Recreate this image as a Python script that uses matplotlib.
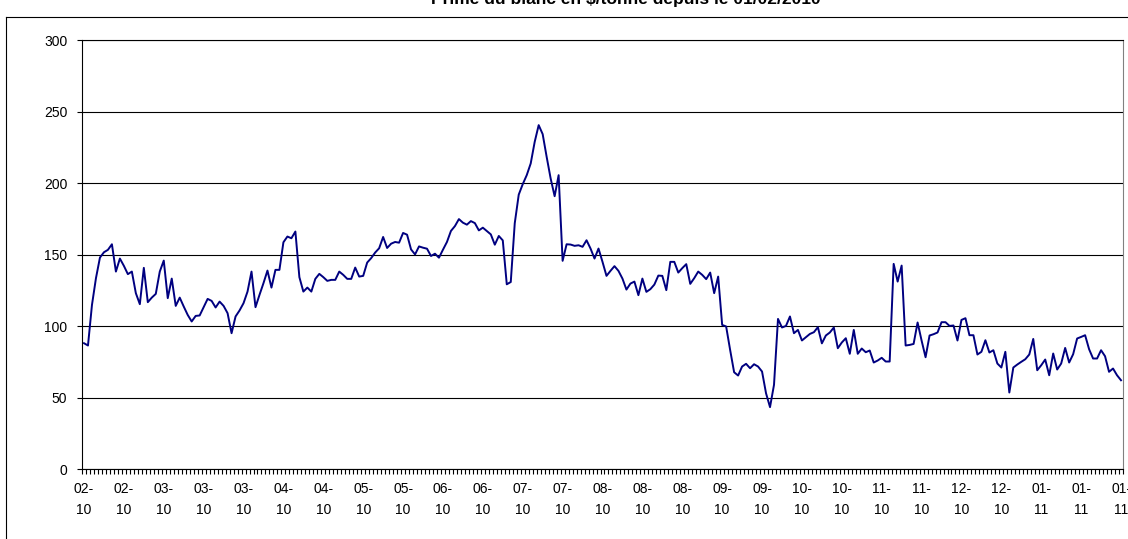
import numpy as np
import matplotlib
matplotlib.use("Agg")
import matplotlib.pyplot as plt
from matplotlib.lines import Line2D

plt.rcParams['font.family'] = ['Liberation Sans', 'DejaVu Sans']
plt.rcParams['font.size'] = 10

# 1) Prime du blanc ($/t), one value per business day from 01/02/2010
prime = [
    88.1, 86.5, 114.9, 133.6, 148.0, 151.7, 153.4, 157.3, 138.2, 147.3,
    142.2, 136.4, 138.2, 123.1, 115.4, 140.8, 116.8, 120.0, 122.6, 138.2,
    145.9, 119.6, 133.3, 114.2, 120.0, 113.8, 107.9, 103.3, 107.2, 107.5,
    113.3, 119.1, 117.7, 113.1, 117.2, 114.2, 109.1, 95.1, 106.8, 111.0,
    116.1, 124.2, 138.2, 113.3, 121.9, 130.1, 138.9, 127.0, 139.4, 139.4,
    158.7, 162.7, 161.5, 166.2, 134.3, 124.2, 127.0, 124.2, 133.1, 136.6,
    134.3, 131.7, 132.4, 132.4, 138.2, 135.9, 133.1, 133.1, 141.0, 134.7,
    135.2, 144.5, 147.6, 151.5, 154.5, 162.4, 154.7, 157.7, 158.9, 158.4,
    165.2, 164.0, 153.7, 150.2, 155.8, 154.9, 154.2, 149.1, 150.7, 147.9,
    153.5, 158.9, 166.6, 170.0, 174.9, 172.4, 171.0, 173.5, 172.1, 167.0,
    168.9, 166.6, 164.2, 157.0, 163.1, 160.0, 129.3, 130.9, 172.0, 192.0,
    199.3, 205.6, 213.8, 228.9, 240.6, 234.3, 218.4, 203.3, 190.9, 205.6,
    145.7, 157.3, 157.1, 156.2, 156.6, 155.5, 160.1, 154.3, 147.3, 154.3,
    145.0, 135.2, 138.7, 142.0, 138.7, 133.3, 125.6, 129.8, 131.2, 121.7,
    133.3, 124.0, 125.9, 129.1, 135.4, 135.2, 125.2, 145.0, 145.0, 137.5,
    140.6, 143.4, 129.6, 133.6, 138.2, 135.9, 132.9, 137.5, 123.1, 134.7,
    100.9, 99.8, 83.4, 67.8, 65.5, 71.8, 73.7, 70.6, 73.4, 71.8,
    68.3, 53.1, 43.4, 59.0, 105.1, 99.1, 100.2, 106.8, 95.1, 97.4,
    90.0, 92.3, 94.6, 95.8, 99.3, 88.0, 93.5, 95.6, 99.1, 84.6,
    88.6, 91.6, 80.7, 97.4, 80.7, 84.4, 81.8, 83.0, 74.6, 76.0,
    77.9, 75.3, 75.3, 143.6, 131.2, 142.4, 86.5, 86.9, 87.6, 102.6,
    90.0, 78.3, 93.5, 94.4, 95.6, 102.8, 102.8, 100.2, 100.5, 90.0,
    104.4, 105.6, 93.7, 93.7, 80.2, 82.1, 90.2, 81.6, 83.2, 73.9,
    71.1, 82.1, 53.6, 71.1, 73.2, 75.1, 76.9, 80.2, 91.1, 69.2,
    72.7, 76.7, 65.7, 80.9, 69.7, 73.9, 84.8, 74.6, 80.4, 91.4,
    92.5, 93.7, 83.9, 77.4, 77.4, 83.2, 79.0, 68.1, 70.4, 65.7,
    62.2,
]

# 2) Category labels, one every 10 business days (mm-yy)
tick_labels = [
    "02-10", "02-10", "03-10", "03-10", "03-10", "04-10", "04-10",
    "05-10", "05-10", "06-10", "06-10", "07-10", "07-10", "08-10",
    "08-10", "08-10", "09-10", "09-10", "10-10", "10-10", "11-10",
    "11-10", "12-10", "12-10", "01-11", "01-11", "01-11",
]
label_step = 10

title = "Prime du blanc en $/tonne depuis le 01/02/2010"

n = len(prime)
x = np.arange(n) + 0.5

fig = plt.figure(figsize=(11.28, 5.39), dpi=100)
W, H = 1128, 539
ax = fig.add_axes([82 / W, 1 - 469.2 / H, 1041 / W, 429 / H])

ax.plot(x, prime, color='#000080', lw=1.4)

ax.set_xlim(0, n)
ax.set_ylim(0, 300)
ax.set_yticks(range(0, 301, 50))
ax.yaxis.grid(True, color='black', lw=0.8)
ax.set_axisbelow(True)

for s in ['left', 'bottom', 'top']:
    ax.spines[s].set_color('black')
    ax.spines[s].set_linewidth(0.8)
ax.spines['right'].set_color('#808080')
ax.spines['right'].set_linewidth(0.8)

# ticks between categories, labels centred under every 10th category
ax.set_xticks(np.arange(0, n + 1), minor=True)
ax.set_xticks(np.arange(len(tick_labels)) * label_step + 0.5)
ax.set_xticklabels([t.replace("-", "-\n") for t in tick_labels], linespacing=1.7)
ax.tick_params(axis='x', which='minor', length=3.5, width=0.8, direction='out')
ax.tick_params(axis='x', which='major', length=0, pad=9)
ax.tick_params(axis='y', length=3.6, width=0.8, pad=7)

# chart area border (only left and top edges are inside the picture)
fig.add_artist(Line2D([6 / W, 6 / W], [0, 1 - 17 / H], transform=fig.transFigure,
                      color='black', lw=0.8))
fig.add_artist(Line2D([6 / W, 1], [1 - 17 / H, 1 - 17 / H], transform=fig.transFigure,
                      color='black', lw=0.8))

fig.text(626 / W, 1 - 4 / H, title, ha='center', va='baseline',
         fontsize=12.5, fontweight='bold')

fig.savefig('out.png', dpi=100)
